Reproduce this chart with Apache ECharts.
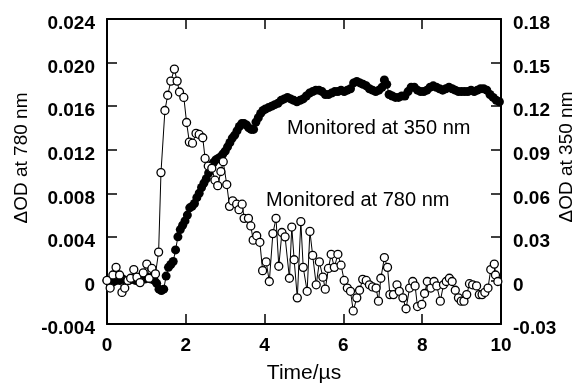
<!DOCTYPE html>
<html>
<head>
<meta charset="utf-8">
<script src="https://cdn.jsdelivr.net/npm/echarts@6/dist/echarts.min.js"></script>
<style>
  html, body { margin: 0; padding: 0; background: #fff; }
  #chart { width: 579px; height: 383px; }
</style>
</head>
<body>
<div id="chart"></div>
<script>
// time axis (µs) for the 350 nm trace (filled circles, right axis)
const t350 = [
  0.00, 0.08, 0.16, 0.24, 0.32, 0.40, 0.48, 0.56, 0.64, 0.72, 0.80, 0.88, 0.96, 1.04, 1.12, 1.20,
  1.26, 1.32, 1.38, 1.44, 1.50, 1.56, 1.62, 1.68, 1.74, 1.80, 1.86, 1.92, 1.98, 2.04, 2.10, 2.16,
  2.22, 2.28, 2.34, 2.40, 2.46, 2.52, 2.58, 2.64, 2.70, 2.76, 2.82, 2.88, 2.94, 3.00, 3.06, 3.12,
  3.18, 3.24, 3.30, 3.36, 3.42, 3.48, 3.54, 3.60, 3.66, 3.72, 3.78, 3.84, 3.90, 3.96, 4.02, 4.10,
  4.18, 4.26, 4.34, 4.42, 4.50, 4.58, 4.66, 4.74, 4.82, 4.90, 4.98, 5.06, 5.14, 5.22, 5.30, 5.38,
  5.46, 5.54, 5.62, 5.70, 5.78, 5.86, 5.94, 6.02, 6.10, 6.18, 6.26, 6.34, 6.42, 6.50, 6.58, 6.66,
  6.74, 6.82, 6.90, 6.98, 7.04, 7.10, 7.16, 7.24, 7.32, 7.40, 7.48, 7.56, 7.64, 7.72, 7.80, 7.88,
  7.96, 8.04, 8.12, 8.20, 8.28, 8.36, 8.44, 8.52, 8.60, 8.68, 8.76, 8.84, 8.92, 9.00, 9.08, 9.16,
  9.24, 9.32, 9.40, 9.48, 9.56, 9.64, 9.72, 9.80, 9.88, 9.96
]
const od350 = [
  0.000, 0.000, -0.001, 0.000, 0.000, 0.001, 0.000, 0.000, 0.001, 0.000, 0.001, 0.002, 0.001, 0.002, 0.001, 0.000,
  -0.002, -0.006, -0.007, -0.006, 0.003, 0.009, 0.011, 0.013, 0.021, 0.030, 0.035, 0.038, 0.041, 0.045, 0.050, 0.051,
  0.053, 0.057, 0.060, 0.064, 0.067, 0.070, 0.074, 0.078, 0.081, 0.083, 0.084, 0.085, 0.087, 0.089, 0.092, 0.095,
  0.098, 0.100, 0.103, 0.106, 0.108, 0.108, 0.107, 0.105, 0.104, 0.104, 0.109, 0.112, 0.115, 0.117, 0.118, 0.119,
  0.120, 0.121, 0.122, 0.124, 0.125, 0.126, 0.125, 0.124, 0.123, 0.124, 0.125, 0.127, 0.129, 0.130, 0.131, 0.131,
  0.130, 0.128, 0.128, 0.129, 0.130, 0.130, 0.131, 0.130, 0.131, 0.132, 0.136, 0.137, 0.136, 0.135, 0.134, 0.132,
  0.131, 0.130, 0.131, 0.133, 0.138, 0.135, 0.128, 0.127, 0.126, 0.126, 0.127, 0.127, 0.130, 0.133, 0.133, 0.131,
  0.130, 0.130, 0.131, 0.133, 0.134, 0.133, 0.132, 0.131, 0.132, 0.133, 0.132, 0.131, 0.130, 0.130, 0.130, 0.130,
  0.131, 0.130, 0.131, 0.132, 0.132, 0.131, 0.128, 0.126, 0.124, 0.123
]

// time axis (µs) for the 780 nm trace (open circles, left axis)
const t780 = [
  0.00, 0.08, 0.15, 0.23, 0.32, 0.38, 0.45, 0.53, 0.60, 0.68, 0.76, 0.84, 0.92, 1.01, 1.07, 1.14,
  1.23, 1.31, 1.37, 1.47, 1.54, 1.62, 1.71, 1.78, 1.84, 1.95, 2.02, 2.09, 2.17, 2.26, 2.34, 2.43,
  2.49, 2.57, 2.66, 2.74, 2.81, 2.89, 2.95, 3.04, 3.11, 3.19, 3.29, 3.35, 3.43, 3.48, 3.59, 3.65,
  3.71, 3.80, 3.88, 3.95, 4.04, 4.12, 4.21, 4.29, 4.36, 4.44, 4.52, 4.63, 4.69, 4.75, 4.83, 4.92,
  4.98, 5.08, 5.15, 5.22, 5.31, 5.39, 5.48, 5.54, 5.62, 5.69, 5.77, 5.86, 5.94, 6.02, 6.10, 6.18,
  6.25, 6.34, 6.41, 6.49, 6.58, 6.66, 6.74, 6.83, 6.89, 6.95, 7.04, 7.12, 7.18, 7.27, 7.36, 7.42,
  7.51, 7.59, 7.68, 7.76, 7.82, 7.88, 7.99, 8.06, 8.13, 8.22, 8.30, 8.37, 8.46, 8.54, 8.61, 8.69,
  8.76, 8.84, 8.92, 8.99, 9.06, 9.13, 9.20, 9.28, 9.38, 9.45, 9.52, 9.59, 9.67, 9.74, 9.83, 9.86,
  9.92
]
const od780 = [
  0.0000, -0.0007, 0.0005, 0.0012, 0.0005, -0.0011, -0.0007, 0.0000, 0.0002, 0.0010, 0.0003, -0.0002, 0.0007, 0.0015, 0.0002, 0.0011,
  0.0006, 0.0026, 0.0099, 0.0156, 0.0170, 0.0183, 0.0194, 0.0183, 0.0173, 0.0168, 0.0145, 0.0127, 0.0126, 0.0135, 0.0134, 0.0131,
  0.0112, 0.0105, 0.0103, 0.0092, 0.0087, 0.0100, 0.0109, 0.0088, 0.0068, 0.0073, 0.0070, 0.0065, 0.0070, 0.0057, 0.0057, 0.0050,
  0.0037, 0.0041, 0.0035, 0.0009, 0.0017, -0.0001, 0.0043, 0.0057, 0.0013, 0.0044, 0.0040, 0.0002, 0.0049, 0.0019, -0.0016, 0.0054,
  0.0012, -0.0010, 0.0045, 0.0023, -0.0004, 0.0017, 0.0003, -0.0008, 0.0011, 0.0024, 0.0012, 0.0024, 0.0014, 0.0000, -0.0007, -0.0010,
  -0.0028, -0.0016, -0.0009, 0.0001, 0.0000, -0.0004, -0.0006, -0.0007, -0.0019, 0.0002, 0.0021, 0.0012, -0.0013, -0.0013, -0.0004, -0.0010,
  -0.0016, -0.0026, -0.0007, -0.0001, -0.0005, -0.0024, -0.0022, -0.0012, -0.0001, -0.0007, -0.0001, -0.0005, -0.0019, -0.0004, -0.0001, 0.0002,
  -0.0001, -0.0009, -0.0016, -0.0019, -0.0019, -0.0013, -0.0003, -0.0004, -0.0005, -0.0013, -0.0013, -0.0011, -0.0007, 0.0010, 0.0015, 0.0005,
  -0.0001
]

const FONT = '"Liberation Sans", Arial, Helvetica, sans-serif'

const chart = echarts.init(document.getElementById('chart'))

const tickStyle = { show: true, inside: true, length: 10, lineStyle: { color: '#000', width: 1.5 } }
const axisLine = { show: true, onZero: false, lineStyle: { color: '#000', width: 2 } }
const labelStyle = { color: '#000', fontFamily: FONT, fontSize: 19, fontWeight: 'bold' }

chart.setOption({
  animation: false,
  backgroundColor: '#fff',
  grid: { left: 107, right: 78, top: 19, bottom: 59, containLabel: false, outerBoundsMode: 'none' },
  xAxis: [
    {
      type: 'value', min: 0, max: 10, interval: 2, position: 'bottom',
      axisLine, axisTick: tickStyle, splitLine: { show: false },
      axisLabel: { ...labelStyle, margin: 12 },
      name: 'Time/µs', nameLocation: 'middle', nameGap: 39,
      nameTextStyle: { color: '#000', fontFamily: FONT, fontSize: 21 }
    },
    {
      type: 'value', min: 0, max: 10, interval: 2, position: 'top',
      axisLine, axisTick: tickStyle, splitLine: { show: false },
      axisLabel: { show: false }
    }
  ],
  yAxis: [
    {
      type: 'value', min: -0.004, max: 0.024, interval: 0.004, position: 'left',
      axisLine, axisTick: tickStyle, splitLine: { show: false },
      axisLabel: {
        ...labelStyle, margin: 12, verticalAlign: 'top', lineHeight: 10,
        formatter: v => Math.abs(v) < 1e-9 ? '0' : v.toFixed(3)
      }
    },
    {
      type: 'value', min: -0.03, max: 0.18, interval: 0.03, position: 'right',
      axisLine, axisTick: tickStyle, splitLine: { show: false },
      axisLabel: {
        ...labelStyle, margin: 12, verticalAlign: 'top', lineHeight: 10,
        formatter: v => Math.abs(v) < 1e-9 ? '0' : v.toFixed(2)
      }
    }
  ],
  graphic: [
    {
      type: 'text', x: 22, y: 158, rotation: Math.PI / 2,
      style: { text: 'ΔOD at 780 nm', fill: '#000', font: '19px ' + FONT, align: 'center', verticalAlign: 'middle' }
    },
    {
      type: 'text', x: 567, y: 157, rotation: Math.PI / 2,
      style: { text: 'ΔOD at 350 nm', fill: '#000', font: '19px ' + FONT, align: 'center', verticalAlign: 'middle' }
    },
    {
      type: 'text', x: 287, y: 128,
      style: { text: 'Monitored at 350 nm', fill: '#000', font: '20px ' + FONT, align: 'left', verticalAlign: 'middle' }
    },
    {
      type: 'text', x: 266, y: 200,
      style: { text: 'Monitored at 780 nm', fill: '#000', font: '20px ' + FONT, align: 'left', verticalAlign: 'middle' }
    }
  ],
  series: [
    {
      name: 'Monitored at 350 nm', type: 'line', xAxisIndex: 0, yAxisIndex: 1,
      data: t350.map((t, i) => [t, od350[i]]),
      symbol: 'circle', symbolSize: 9, showAllSymbol: true,
      lineStyle: { color: '#000', width: 1 },
      itemStyle: { color: '#000', borderColor: '#000', borderWidth: 0 },
      z: 2
    },
    {
      name: 'Monitored at 780 nm', type: 'line', xAxisIndex: 0, yAxisIndex: 0,
      data: t780.map((t, i) => [t, od780[i]]),
      symbol: 'circle', symbolSize: 8, showAllSymbol: true,
      lineStyle: { color: '#000', width: 1 },
      itemStyle: { color: '#fff', borderColor: '#000', borderWidth: 1.3 },
      z: 3
    }
  ]
})
</script>
</body>
</html>
